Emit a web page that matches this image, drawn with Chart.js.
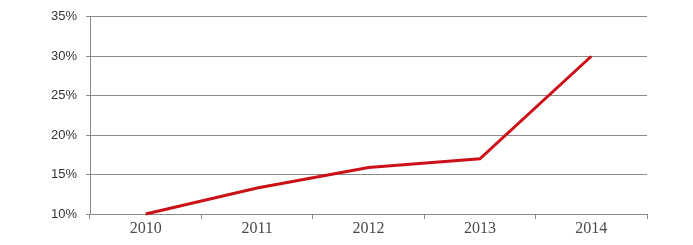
<!DOCTYPE html>
<html>
<head>
<meta charset="utf-8">
<script src="https://cdn.jsdelivr.net/npm/chart.js@4"></script>
<style>
  html, body { margin: 0; padding: 0; background: #fff; }
  #wrap { width: 693px; height: 245px; position: relative; }
</style>
</head>
<body>
<div id="wrap"><canvas id="growth-chart"></canvas></div>
<script>
"use strict";
const years = ["2010", "2011", "2012", "2013", "2014"];
const shareValues = [10, 13.3, 15.9, 17, 30];
const yTicks = [10, 15, 20, 25, 30, 35];

const gridGrey = "#8a8a8a";
const chartElement = document.querySelector("#growth-chart");

new Chart(chartElement, {
  type: "line",
  data: {
    labels: years,
    datasets: [
      {
        data: shareValues,
        borderColor: "#cc1018",
        borderWidth: 3,
        pointRadius: 0,
        fill: false,
        tension: 0,
        clip: false,
      },
    ],
  },
  options: {
    responsive: true,
    maintainAspectRatio: false,
    animation: false,
    layout: {
      autoPadding: false,
      padding: { top: 13, right: 46, bottom: 0, left: 0 },
    },
    plugins: {
      legend: { display: false },
      tooltip: { enabled: false },
    },
    scales: {
      x: {
        offset: true,
        afterFit: (scale) => {
          scale.height = 31;
        },
        grid: {
          offset: true,
          drawOnChartArea: false,
          drawTicks: true,
          tickLength: 5,
          color: gridGrey,
        },
        border: { display: true, color: gridGrey, width: 1 },
        ticks: {
          color: "#4a4a4a",
          padding: 0,
          font: { family: "Liberation Serif", size: 16 },
        },
      },
      y: {
        min: 10,
        max: 35,
        afterFit: (scale) => {
          scale.width = 90;
        },
        afterBuildTicks: (scale) => {
          scale.ticks = yTicks.map((v) => ({ value: v }));
        },
        grid: {
          color: gridGrey,
          drawTicks: true,
          tickLength: 4,
        },
        border: { display: true, color: gridGrey, width: 1 },
        ticks: {
          color: "#333",
          padding: 9,
          font: { family: "Liberation Sans", size: 13 },
          callback: (value) => value + "%",
        },
      },
    },
  },
});
</script>
</body>
</html>
